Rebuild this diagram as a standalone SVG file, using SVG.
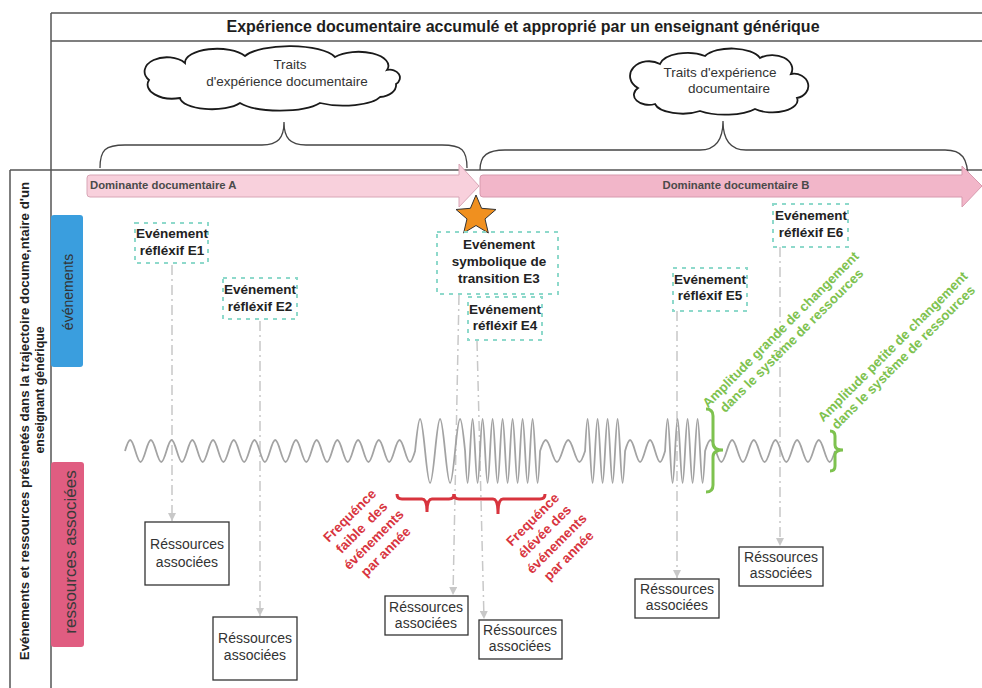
<svg xmlns="http://www.w3.org/2000/svg" width="982" height="688" viewBox="0 0 982 688">
<style>
.frame{stroke:#555;stroke-width:1.5;fill:none}
.t{font-family:"Liberation Sans",Arial,sans-serif}
.hdr{font-size:16px;font-weight:bold;fill:#1e1e1e}
.cloud{fill:#fff;stroke:#1a1a1a;stroke-width:1.8}
.ct{font-size:13.5px;fill:#333;text-anchor:middle}
.brace{fill:none;stroke:#444;stroke-width:1.3}
.ev{fill:none;stroke:#8ed9cb;stroke-width:2;stroke-dasharray:4 5}
.evt{font-size:13.5px;font-weight:bold;fill:#222;text-anchor:middle}
.res{fill:#fff;stroke:#333;stroke-width:1.3}
.rt{font-size:14px;fill:#333;text-anchor:middle}
.conn{fill:none;stroke:#c8c8c8;stroke-width:1.5;stroke-dasharray:10 4 2 4}
.red{font-size:13.5px;font-weight:bold;fill:#d8343e;text-anchor:middle}
.green{font-size:13.3px;font-weight:bold;fill:#7ec24f;text-anchor:middle}
.rb{fill:none;stroke:#d8343e;stroke-width:3}
.gb{fill:none;stroke:#7ec24f;stroke-width:3}
.dom{font-size:11.3px;font-weight:bold;fill:#4a4a4a}
</style>
<defs>
<marker id="ah" markerWidth="8" markerHeight="8" refX="8" refY="4" orient="auto" markerUnits="userSpaceOnUse">
<path d="M0,0 L8,4 L0,8 z" fill="#c8c8c8"/>
</marker>
</defs>
<rect width="982" height="688" fill="#fff"/>

<g id="frame">
<line class="frame" x1="51" y1="13" x2="982" y2="13"/>
<line class="frame" x1="51" y1="41" x2="982" y2="41"/>
<line class="frame" x1="51" y1="13" x2="51" y2="688"/>
<line class="frame" x1="10" y1="170" x2="982" y2="170"/>
<line class="frame" x1="10" y1="170" x2="10" y2="688"/>
</g>

<g id="header">
<text class="t hdr" x="523" y="32" text-anchor="middle">Expérience documentaire accumulé et approprié par un enseignant générique</text>
</g>

<g id="cloud1">
<path class="cloud" d="M149,80 A22,14 0 0 1 185,63 A32,14 0 0 1 245,56 A48,16 0 0 1 335,57 A30,14 0 0 1 387,70 A10,8 0 0 1 396,84 A18,12 0 0 1 380,97 A38,12 0 0 1 320,103 A45,14 0 0 1 240,103 A32,12 0 0 1 180,98 A25,14 0 0 1 149,80 Z"/>
<text class="t ct" x="290" y="69">Traits</text>
<text class="t ct" x="287" y="86">d'expérience documentaire</text>
</g>

<g id="cloud2">
<path class="cloud" d="M638,88 A18,14 0 0 1 660,64 A28,14 0 0 1 705,56 A30,14 0 0 1 760,58 A20,14 0 0 1 791,74 A14,12 0 0 1 797,98 A25,12 0 0 1 755,109 A35,12 0 0 1 700,111 A28,12 0 0 1 655,104 A15,10 0 0 1 638,88 Z"/>
<text class="t ct" x="720" y="77">Traits d'expérience</text>
<text class="t ct" x="729" y="93">documentaire</text>
</g>

<g id="braces-top">
<path class="brace" d="M100,168 C100,150 105,145 125,145 L262,145 C278,145 284,138 284,122 C284,138 290,145 306,145 L442,145 C462,145 467,150 467,168"/>
<path class="brace" d="M480,170 C480,155 488,150 505,150 L700,150 C716,150 723,140 723,121 C723,140 730,150 746,150 L945,150 C962,150 968,158 968,180"/>
</g>

<g id="dominanteA">
<path d="M90,175 L459,175 L459,164 L479,186 L459,207 L459,197 L90,197 Q87,197 87,194 L87,178 Q87,175 90,175 Z" fill="#f8d0dc" stroke="#d8a6b6" stroke-width="1"/>
<text class="t dom" x="90" y="189">Dominante documentaire A</text>
</g>
<g id="dominanteB">
<path d="M483,175 L962,175 L962,166 L982,186 L962,207 L962,197 L483,197 Q480,197 480,194 L480,178 Q480,175 483,175 Z" fill="#f2b6c9" stroke="#d79aae" stroke-width="1"/>
<text class="t dom" x="736" y="189" text-anchor="middle">Dominante documentaire B</text>
</g>

<g id="star">
<polygon points="476,195 481.58,208.31 495.97,209.51 485.03,218.94 488.34,232.99 476,225.5 463.66,232.99 466.97,218.94 456.03,209.51 470.42,208.31" fill="#f0901f" stroke="#333" stroke-width="1"/>
</g>

<g id="left-title">
<text class="t" transform="translate(29,421) rotate(-90)" font-size="13.3" font-weight="bold" fill="#222" text-anchor="middle">Evénements et ressources présnetés dans la trajectoire docume,ntaire d'un</text>
<text class="t" transform="translate(44,390) rotate(-90)" font-size="12.3" font-weight="bold" fill="#222" text-anchor="middle">enseignant générique</text>
</g>

<g id="tab-evenements">
<rect x="51" y="215" width="32" height="152" rx="3" fill="#3a9ede"/>
<text class="t" transform="translate(73,292) rotate(-90)" font-size="14" fill="#333" text-anchor="middle">événements</text>
</g>
<g id="tab-ressources">
<rect x="51" y="462" width="33" height="185" rx="3" fill="#e05d81"/>
<text class="t" transform="translate(76,552) rotate(-90)" font-size="17" fill="#3a3a3a" text-anchor="middle">ressources associées</text>
</g>

<g id="connectors">
<line class="conn" x1="172" y1="265" x2="172" y2="521" marker-end="url(#ah)"/>
<line class="conn" x1="260" y1="321" x2="260" y2="616" marker-end="url(#ah)"/>
<line class="conn" x1="459" y1="295" x2="453" y2="595" marker-end="url(#ah)"/>
<line class="conn" x1="477" y1="341" x2="484" y2="619" marker-end="url(#ah)"/>
<line class="conn" x1="677" y1="311" x2="677" y2="578" marker-end="url(#ah)"/>
<line class="conn" x1="780" y1="247" x2="780" y2="546" marker-end="url(#ah)"/>
</g>

<g id="wave">
<path fill="none" stroke="#a3a3a3" stroke-width="1.8" d="M125,451 c4.39,-14.67 5.97,-14.67 10.36,0 s5.97,14.67 10.36,0 s5.97,-14.67 10.36,0 s5.97,14.67 10.36,0 s5.97,-14.67 10.36,0 s5.97,14.67 10.36,0 s5.97,-14.67 10.36,0 s5.97,14.67 10.36,0 s5.97,-14.67 10.36,0 s5.97,14.67 10.36,0 s5.97,-14.67 10.36,0 s5.97,14.67 10.36,0 s5.97,-14.67 10.36,0 s5.97,14.67 10.36,0 s5.97,-14.67 10.36,0 s5.97,14.67 10.36,0 s5.97,-14.67 10.36,0 s5.97,14.67 10.36,0 s5.97,-14.67 10.36,0 s5.97,14.67 10.36,0 s5.97,-14.67 10.36,0 s5.97,14.67 10.36,0 s5.97,-14.67 10.36,0 s5.97,14.67 10.36,0 s5.97,-14.67 10.36,0 s5.97,14.67 10.36,0 s5.97,-14.67 10.36,0 s5.97,14.67 10.36,0
c4.24,-42.67 5.76,-42.67 10,0 s5.76,42.67 10,0 s5.76,-42.67 10,0 s5.76,42.67 10,0 s5.76,-42.67 10,0
c2.12,42.67 2.88,42.67 5,0 s2.88,-42.67 5,0 s2.88,42.67 5,0 s2.88,-42.67 5,0 s2.88,42.67 5,0 s2.88,-42.67 5,0 s2.88,42.67 5,0 s2.88,-42.67 5,0 s2.88,42.67 5,0 s2.88,-42.67 5,0 s2.88,42.67 5,0 s2.88,-42.67 5,0 s2.88,42.67 5,0 s2.88,-42.67 5,0 s2.88,42.67 5,0
c4.77,-14.67 6.48,-14.67 11.25,0 s6.48,14.67 11.25,0 s6.48,-14.67 11.25,0 s6.48,14.67 11.25,0
c2.12,-42.67 2.88,-42.67 5,0 s2.88,42.67 5,0 s2.88,-42.67 5,0 s2.88,42.67 5,0 s2.88,-42.67 5,0 s2.88,42.67 5,0 s2.88,-42.67 5,0 s2.88,42.67 5,0
c4.24,-14.67 5.76,-14.67 10,0 s5.76,14.67 10,0 s5.76,-14.67 10,0 s5.76,14.67 10,0
c2.12,-42.67 2.88,-42.67 5,0 s2.88,42.67 5,0 s2.88,-42.67 5,0 s2.88,42.67 5,0 s2.88,-42.67 5,0 s2.88,42.67 5,0 s2.88,-42.67 5,0 s2.88,42.67 5,0
c4.59,-14.67 6.24,-14.67 10.83,0 s6.24,14.67 10.83,0 s6.24,-14.67 10.83,0 s6.24,14.67 10.83,0 s6.24,-14.67 10.83,0 s6.24,14.67 10.83,0 s6.24,-14.67 10.83,0 s6.24,14.67 10.83,0 s6.24,-14.67 10.83,0 s6.24,14.67 10.83,0 s6.24,-14.67 10.83,0 s6.24,14.67 10.83,0"/>
</g>

<g id="E1"><rect class="ev" x="135" y="223" width="73" height="40"/>
<text class="t evt" x="172" y="238">Evénement</text><text class="t evt" x="172" y="255">réfléxif E1</text></g>
<g id="E2"><rect class="ev" x="223" y="278" width="74" height="41"/>
<text class="t evt" x="260" y="294">Evénement</text><text class="t evt" x="260" y="311">réfléxif E2</text></g>
<g id="E3"><rect class="ev" x="437" y="232" width="121" height="62"/>
<text class="t evt" x="499" y="249">Evénement</text><text class="t evt" x="499" y="266">symbolique de</text><text class="t evt" x="499" y="283">transition E3</text></g>
<g id="E4"><rect class="ev" x="468" y="297" width="74" height="43"/>
<text class="t evt" x="505" y="314">Evénement</text><text class="t evt" x="505" y="330">réfléxif E4</text></g>
<g id="E5"><rect class="ev" x="673" y="268" width="74" height="43"/>
<text class="t evt" x="710" y="284">Evénement</text><text class="t evt" x="710" y="300">réfléxif E5</text></g>
<g id="E6"><rect class="ev" x="773" y="204" width="75" height="43"/>
<text class="t evt" x="811" y="220">Evénement</text><text class="t evt" x="811" y="237">réfléxif E6</text></g>

<g id="R1"><rect class="res" x="145" y="522" width="84" height="63"/>
<text class="t rt" x="187" y="549">Réssources</text><text class="t rt" x="187" y="567">associées</text></g>
<g id="R2"><rect class="res" x="213" y="617" width="84" height="63"/>
<text class="t rt" x="255" y="643">Réssources</text><text class="t rt" x="255" y="660">associées</text></g>
<g id="R3"><rect class="res" x="385" y="596" width="83" height="39"/>
<text class="t rt" x="426" y="612">Réssources</text><text class="t rt" x="426" y="628">associées</text></g>
<g id="R4"><rect class="res" x="479" y="620" width="83" height="39"/>
<text class="t rt" x="520" y="635">Réssources</text><text class="t rt" x="520" y="651">associées</text></g>
<g id="R5"><rect class="res" x="635" y="579" width="84" height="39"/>
<text class="t rt" x="677" y="594">Réssources</text><text class="t rt" x="677" y="610">associées</text></g>
<g id="R6"><rect class="res" x="739" y="547" width="84" height="39"/>
<text class="t rt" x="781" y="562">Réssources</text><text class="t rt" x="781" y="578">associées</text></g>

<g id="freq-braces">
<path class="rb" d="M397,494 Q397,499 402,499 L422,499 Q427,499 427,512 Q427,499 432,499 L449,499 Q454,499 454,494"/>
<path class="rb" d="M454,494 Q454,499 459,499 L493,499 Q498,499 498,514 Q498,499 503,499 L540,499 Q545,499 545,494"/>
</g>
<g id="freq-faible" transform="translate(350,516) rotate(-45)">
<text class="t red" x="0" y="4">Frequénce</text>
<text class="t red" x="0" y="21" style="white-space:pre">faible  des</text>
<text class="t red" x="0" y="38">événements</text>
<text class="t red" x="0" y="55">par année</text>
</g>
<g id="freq-elevee" transform="translate(533,520) rotate(-45)">
<text class="t red" x="0" y="4">Frequénce</text>
<text class="t red" x="0" y="21">élévée des</text>
<text class="t red" x="0" y="38">événements</text>
<text class="t red" x="0" y="55">par année</text>
</g>

<g id="amp-braces">
<path class="gb" d="M706,409 Q713,409 713,416 L713,443 Q713,450 723,450 Q713,450 713,457 L713,485 Q713,492 706,492"/>
<path class="gb" d="M830,431 Q835,431 835,436 L835,445 Q835,450 843,450 Q835,450 835,455 L835,466 Q835,471 830,471"/>
</g>
<g id="amp-grande" transform="translate(781,330) rotate(-45)">
<text class="t green" x="0" y="4">Amplitude grande de changement</text>
<text class="t green" x="0" y="19.5">dans le système de ressources</text>
</g>
<g id="amp-petite" transform="translate(893,347) rotate(-45)">
<text class="t green" x="0" y="4" font-size="12.6">Amplitude petite de changement</text>
<text class="t green" x="0" y="19" font-size="12.6">dans le système de ressources</text>
</g>
</svg>
